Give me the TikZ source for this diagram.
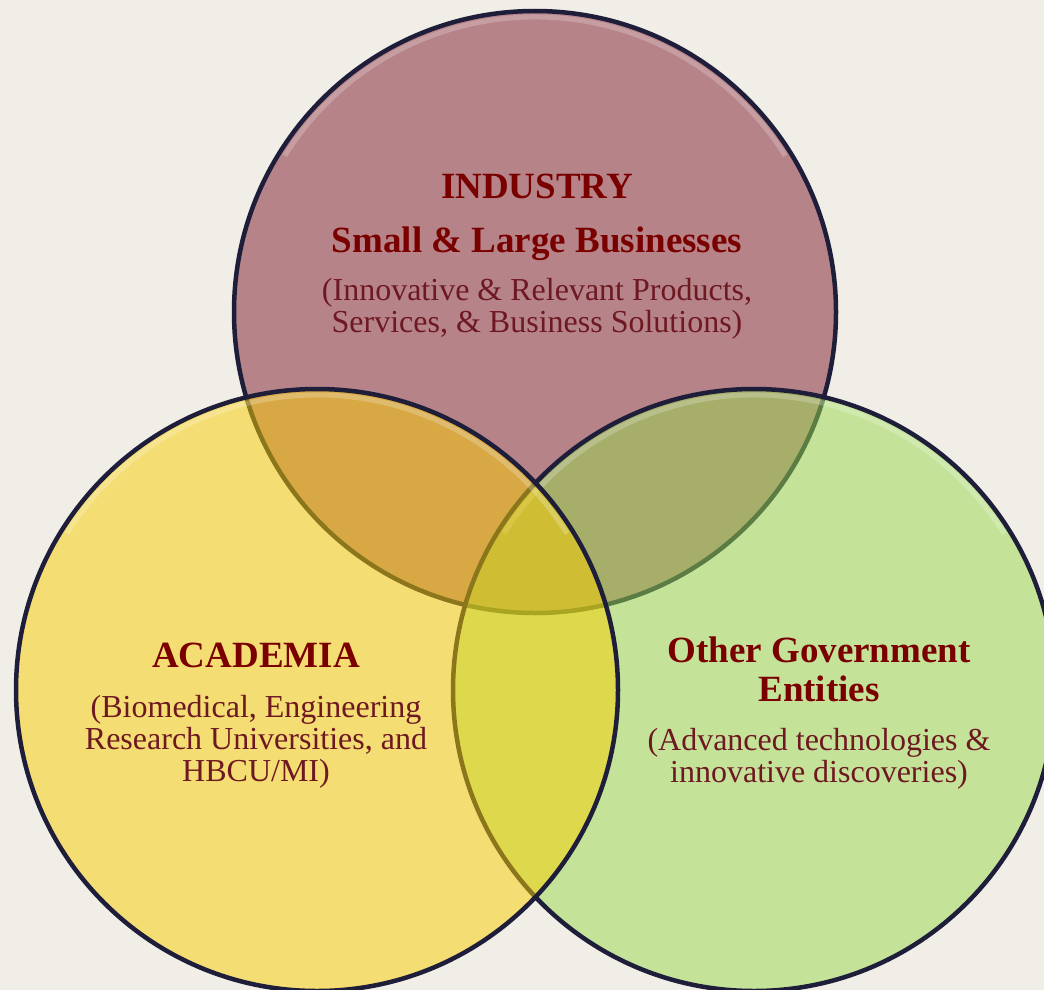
\documentclass[tikz,border=0pt]{standalone}
\usepackage{fontspec}
\setmainfont{Liberation Serif}
\usetikzlibrary{positioning}

\definecolor{paper}{RGB}{241,237,231}
\definecolor{rim}{RGB}{30,30,58}
\definecolor{rose}{RGB}{182,131,137}
\definecolor{lime}{RGB}{152,218,76}
\definecolor{gold}{RGB}{248,206,0}
\definecolor{darkred}{RGB}{122,0,0}
\definecolor{wine}{RGB}{110,24,34}

\tikzstyle{sphere} = [circle, draw=rim, line width=4.5pt, minimum size=602pt, inner sep=0pt,
    path picture={\draw[white, opacity=.22, line width=5pt]
        ([shift={(212:295)}]path picture bounding box.center) arc[start angle=212, end angle=328, radius=295];}]
\tikzstyle{heading} = [text=darkred, inner sep=0pt, align=center,
    font=\fontsize{37}{39}\selectfont\bfseries]
\tikzstyle{blurb} = [text=wine, inner sep=0pt, align=center,
    font=\fontsize{32}{32}\selectfont]

\begin{document}
\begin{tikzpicture}[x=1pt, y=-1pt]
\useasboundingbox (0,0) rectangle (1044,990);
\fill[paper] (0,0) rectangle (1044,990);
\node[sphere, fill=rose] (industry) at (535,312) {};
\node[sphere, fill=lime, fill opacity=.5] (government) at (754,690) {};
\node[sphere, fill=gold, fill opacity=.5] (academia) at (317,690) {};
\node[heading, anchor=base] (indhead) at (537,198) {INDUSTRY};
\node[heading, anchor=base] (indname) at (537,252) {Small \& Large Businesses};
\node[blurb, below=18pt of indname] (inddesc) {(Innovative \& Relevant Products,\\Services, \& Business Solutions)};
\node[heading, anchor=base] (acahead) at (256,667) {ACADEMIA};
\node[blurb, below=28pt of acahead] (acadesc) {(Biomedical, Engineering\\Research Universities, and\\HBCU/MI)};
\node[heading, anchor=north] (govhead) at (819,637) {Other Government\\Entities};
\node[blurb, below=26pt of govhead] (govdesc) {(Advanced technologies \&\\innovative discoveries)};
\end{tikzpicture}
\end{document}
